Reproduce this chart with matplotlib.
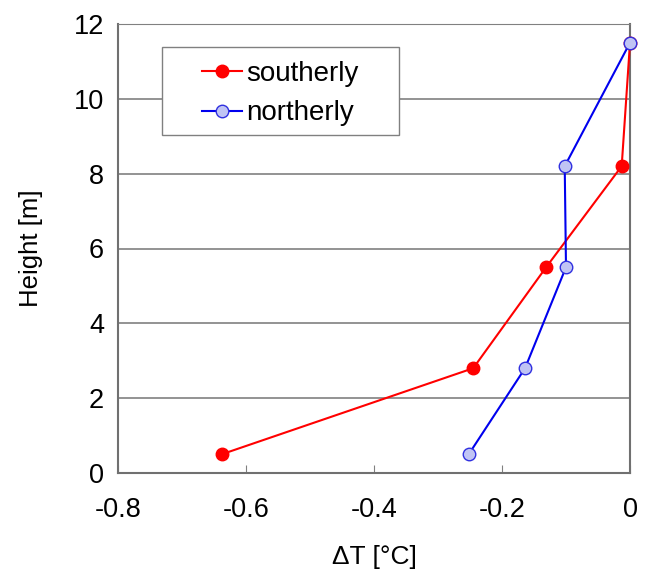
import matplotlib.pyplot as plt
from matplotlib.patches import Rectangle
from matplotlib.ticker import FuncFormatter

plt.rcParams['font.family'] = ['Liberation Sans', 'DejaVu Sans']

height = [0.5, 2.8, 5.5, 8.2, 11.5]
dt_south = [-0.638, -0.245, -0.131, -0.013, 0.0]
dt_north = [-0.252, -0.164, -0.100, -0.102, 0.0]

W, H = 647, 571
fig = plt.figure(figsize=(W / 100, H / 100), dpi=100)
ax = fig.add_axes([118 / W, 1 - 473 / H, 512 / W, 449 / H])

ax.plot(dt_south, height, color='#ff0000', lw=1.5, marker='o', ms=9,
        mfc='#ff0000', mec='#ff0000', label='southerly', zorder=3, clip_on=False)
ax.plot(dt_north, height, color='#0000ee', lw=1.5, marker='o', ms=9,
        mfc='#c0c4f4', mec='#3030e0', label='northerly', zorder=3, clip_on=False)

ax.set_xlim(-0.8, 0)
ax.set_ylim(0, 12)
ax.set_xticks([-0.8, -0.6, -0.4, -0.2, 0])
ax.set_yticks(range(0, 13, 2))
ax.xaxis.set_major_formatter(FuncFormatter(lambda v, p: '0' if abs(v) < 1e-9 else f'{v:g}'))
ax.yaxis.grid(True, color='#808080', lw=1.2)
ax.set_axisbelow(True)
ax.tick_params(axis='x', direction='in', length=6, color='#808080', labelsize=19.5, pad=17)
ax.tick_params(axis='y', direction='in', length=0, labelsize=19.5, pad=10)
for s in ['left', 'bottom', 'right']:
    ax.spines[s].set_color('#707070')
    ax.spines[s].set_linewidth(1.5)
ax.spines['top'].set_color('#808080')

ax.set_xlabel('ΔT [°C]', fontsize=19, labelpad=16)
ax.set_ylabel('Height [m]', fontsize=18.5, labelpad=22)

# legend frame drawn separately (wide side padding)
ax.add_patch(Rectangle((162 / W, 1 - 135 / H), 237 / W, 88 / H, transform=fig.transFigure,
                       facecolor='white', edgecolor='#808080', lw=1.0, zorder=2.5))
leg = ax.legend(loc='center left', bbox_to_anchor=(202 / W, 1 - 93.5 / H),
                bbox_transform=fig.transFigure, fontsize=20, frameon=False,
                handlelength=1.45, handletextpad=0.15, borderpad=0, labelspacing=0.5,
                borderaxespad=0)
leg.set_zorder(4)

fig.savefig('out.png', dpi=100)
